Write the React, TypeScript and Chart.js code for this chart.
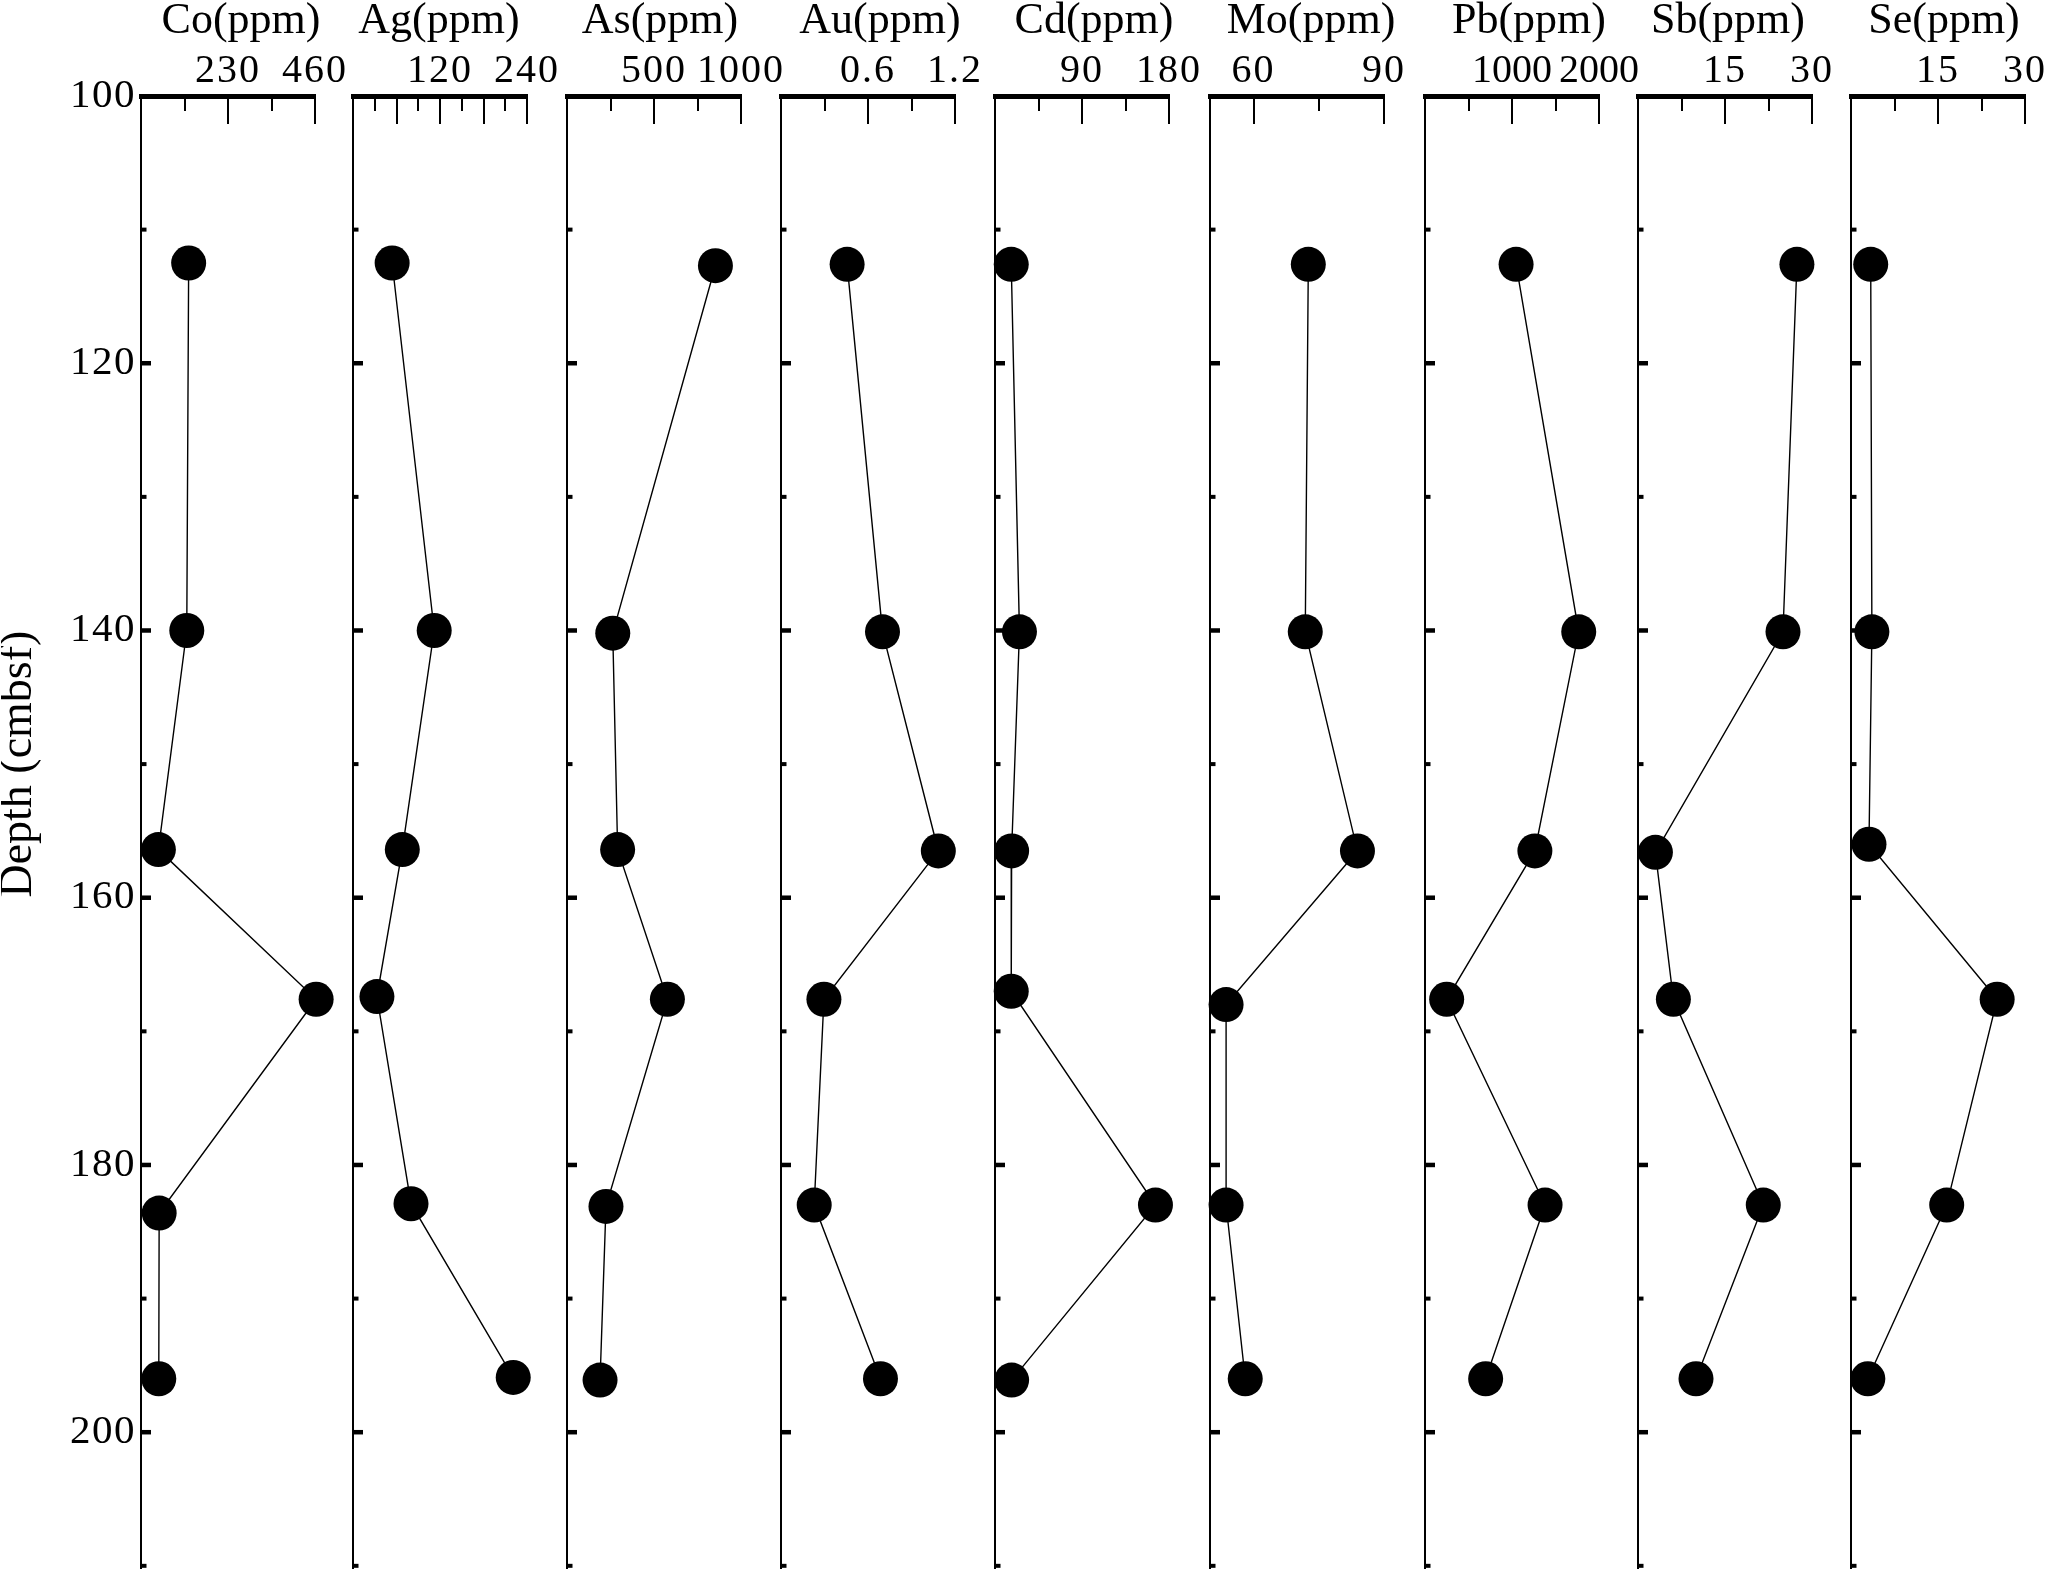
import React, { useEffect, useRef } from "react";
import { Chart, registerables } from "chart.js";

Chart.register(...registerables);

// ---------- data ----------
const TITLES = ["Co(ppm)", "Ag(ppm)", "As(ppm)", "Au(ppm)", "Cd(ppm)", "Mo(ppm)", "Pb(ppm)", "Sb(ppm)", "Se(ppm)"];
const Y_TITLE = "Depth (cmbsf)";

const DEPTH_TICKS = [100, 110, 120, 130, 140, 150, 160, 170, 180, 190, 200, 210];
const DEPTH_LABELS = [100, 120, 140, 160, 180, 200];

const CO_DEPTH = [112.5, 140.0, 156.4, 167.6, 183.6, 196.0];
const CO = [126, 121, 46, 463, 48, 47];
const AG_DEPTH = [112.5, 140.0, 156.4, 167.4, 182.9, 195.9];
const AG = [54, 112, 68, 33, 80, 221];
const AS_DEPTH = [112.7, 140.2, 156.4, 167.6, 183.1, 196.1];
const AS = [853, 263, 291, 577, 224, 190];
const AU_DEPTH = [112.6, 140.1, 156.5, 167.6, 183.0, 196.0];
const AU = [0.456, 0.7, 1.085, 0.296, 0.229, 0.686];
const CD_DEPTH = [112.6, 140.1, 156.5, 167.0, 183.0, 196.1];
const CD = [16.8, 25.3, 17.2, 16.8, 166, 17.2];
const MO_DEPTH = [112.6, 140.1, 156.5, 168.0, 183.0, 196.0];
const MO = [72.6, 71.9, 83.9, 53.7, 53.7, 58.1];
const PB_DEPTH = [112.6, 140.1, 156.5, 167.6, 183.0, 196.0];
const PB = [1047, 1767, 1263, 249, 1380, 697];
const SB_DEPTH = [112.6, 140.1, 156.6, 167.6, 183.0, 196.0];
const SB = [27.4, 25.0, 3.0, 6.1, 21.6, 10.0];
const SE_DEPTH = [112.6, 140.1, 156.0, 167.6, 183.0, 196.0];
const SE = [3.4, 3.6, 3.1, 25.2, 16.5, 2.9];

// axis ranges and ticks
const CO_RANGE = [0, 460]; const CO_TICKS = [0, 115, 230, 345, 460]; const CO_LABELS = [230, 460]; const CO_MAJOR = [230, 460];
const AG_RANGE = [0, 240]; const AG_TICKS = [0, 30, 60, 90, 120, 150, 180, 210, 240]; const AG_LABELS = [120, 240]; const AG_MAJOR = [60, 120, 180, 240];
const AS_RANGE = [0, 1000]; const AS_TICKS = [0, 250, 500, 750, 1000]; const AS_LABELS = [500, 1000]; const AS_MAJOR = [500, 1000];
const AU_RANGE = [0, 1.2]; const AU_TICKS = [0, 0.3, 0.6, 0.9, 1.2]; const AU_LABELS = [0.6, 1.2]; const AU_MAJOR = [0.6, 1.2];
const CD_RANGE = [0, 180]; const CD_TICKS = [0, 45, 90, 135, 180]; const CD_LABELS = [90, 180]; const CD_MAJOR = [90, 180];
const MO_RANGE = [50, 90]; const MO_TICKS = [60, 75, 90]; const MO_LABELS = [60, 90]; const MO_MAJOR = [60, 90];
const PB_RANGE = [0, 2000]; const PB_TICKS = [0, 500, 1000, 1500, 2000]; const PB_LABELS = [1000, 2000]; const PB_MAJOR = [1000, 2000];
const SB_RANGE = [0, 30]; const SB_TICKS = [0, 7.5, 15, 22.5, 30]; const SB_LABELS = [15, 30]; const SB_MAJOR = [15, 30];
const SE_RANGE = [0, 30]; const SE_TICKS = [0, 7.5, 15, 22.5, 30]; const SE_LABELS = [15, 30]; const SE_MAJOR = [15, 30];

const PANELS = [
  { depth: CO_DEPTH, values: CO, range: CO_RANGE, ticks: CO_TICKS, labels: CO_LABELS, major: CO_MAJOR },
  { depth: AG_DEPTH, values: AG, range: AG_RANGE, ticks: AG_TICKS, labels: AG_LABELS, major: AG_MAJOR },
  { depth: AS_DEPTH, values: AS, range: AS_RANGE, ticks: AS_TICKS, labels: AS_LABELS, major: AS_MAJOR },
  { depth: AU_DEPTH, values: AU, range: AU_RANGE, ticks: AU_TICKS, labels: AU_LABELS, major: AU_MAJOR },
  { depth: CD_DEPTH, values: CD, range: CD_RANGE, ticks: CD_TICKS, labels: CD_LABELS, major: CD_MAJOR },
  { depth: MO_DEPTH, values: MO, range: MO_RANGE, ticks: MO_TICKS, labels: MO_LABELS, major: MO_MAJOR },
  { depth: PB_DEPTH, values: PB, range: PB_RANGE, ticks: PB_TICKS, labels: PB_LABELS, major: PB_MAJOR },
  { depth: SB_DEPTH, values: SB, range: SB_RANGE, ticks: SB_TICKS, labels: SB_LABELS, major: SB_MAJOR },
  { depth: SE_DEPTH, values: SE, range: SE_RANGE, ticks: SE_TICKS, labels: SE_LABELS, major: SE_MAJOR },
];

// ---------- layout ----------
const FONT = '"Liberation Serif", "Times New Roman", serif';
const W = 2056;
const H = 1586;
const PANEL_LEFT = [141, 353, 567, 781, 995, 1210, 1425, 1638, 1851];
const PLOT_W = 174;
const PAD_L = 140;
const PAD_R = 50;
const TOP_H = 96;
const TITLE_SHIFT = [13, -1, 6, 12, 12, 14, 17, 3, 6];
const LABEL_SPACING = [2, 2, 2, 2, 2, 2, 0, 2, 2];

function Panel({ index }: { index: number }) {
  const ref = useRef<HTMLCanvasElement | null>(null);
  useEffect(() => {
    const canvas = ref.current;
    if (!canvas) return;
    const spec = PANELS[index];
    const first = index === 0;

    const decor = {
      id: "decor" + index,
      beforeDraw(chart: any) {
        (chart.ctx as any).letterSpacing = "1.5px";
      },
      afterDatasetsDraw(chart: any) {
        (chart.ctx as any).letterSpacing = LABEL_SPACING[index] + "px";
      },
      afterDraw(chart: any) {
        const ctx = chart.ctx as CanvasRenderingContext2D;
        (ctx as any).letterSpacing = "0px";
        const a = chart.chartArea;
        const xs = chart.scales.x;
        const ys = chart.scales.y;
        ctx.save();
        ctx.fillStyle = "#000";
        for (const v of spec.ticks) {
          if (v === spec.range[0]) continue;
          const px = Math.round(xs.getPixelForValue(v));
          const len = spec.major.includes(v) ? 28 : 15;
          ctx.fillRect(px - 1, a.top, 2, len);
        }
        for (const v of DEPTH_TICKS) {
          if (v === 100) continue;
          const py = ys.getPixelForValue(v);
          const major = DEPTH_LABELS.includes(v);
          const th = major ? 4.5 : 4;
          ctx.fillRect(a.left, py - th / 2, major ? 10 : 5.5, th);
        }
        ctx.font = `44px ${FONT}`;
        ctx.textAlign = "center";
        ctx.textBaseline = "alphabetic";
        ctx.fillText(TITLES[index], (a.left + a.right) / 2 + TITLE_SHIFT[index], 33);
        if (first) {
          ctx.font = `46px ${FONT}`;
          ctx.translate(30, ys.getPixelForValue(150));
          ctx.rotate(-Math.PI / 2);
          ctx.textAlign = "center";
          ctx.textBaseline = "alphabetic";
          ctx.fillText(Y_TITLE, 0, 0);
        }
        ctx.restore();
      },
    };

    const chart = new Chart(canvas, {
      type: "scatter",
      data: {
        datasets: [
          {
            data: spec.depth.map((d, i) => ({ x: spec.values[i], y: d })),
            showLine: true,
            borderColor: "#000",
            borderWidth: 1.4,
            backgroundColor: "#000",
            pointBackgroundColor: "#000",
            pointBorderWidth: 0,
            pointRadius: 17.5,
            pointHoverRadius: 17.5,
            tension: 0,
            clip: false as any,
          },
        ],
      },
      options: {
        animation: false,
        responsive: false,
        devicePixelRatio: 1,
        events: [],
        layout: { padding: { left: 0, right: PAD_R, top: 0, bottom: 0 } },
        plugins: {
          legend: { display: false },
          tooltip: { enabled: false },
          title: { display: false },
        },
        scales: {
          x: {
            type: "linear",
            position: "top",
            min: spec.range[0],
            max: spec.range[1],
            afterBuildTicks: (s: any) => {
              s.ticks = spec.ticks.map((v) => ({ value: v }));
            },
            afterFit: (s: any) => {
              s.height = TOP_H;
              s.paddingLeft = 0;
              s.paddingRight = 0;
            },
            grid: { display: false, drawTicks: false, tickLength: 0 },
            border: { display: true, width: 5, color: "#000" },
            ticks: {
              z: 1,
              autoSkip: false,
              maxRotation: 0,
              minRotation: 0,
              padding: 1,
              color: "#000",
              font: { family: FONT, size: 40 },
              callback: (v: any) => (spec.labels.includes(v) ? String(v) : ""),
            },
          },
          y: {
            type: "linear",
            position: "left",
            reverse: true,
            min: 100,
            max: 210.2,
            afterBuildTicks: (s: any) => {
              s.ticks = DEPTH_TICKS.map((v) => ({ value: v }));
            },
            afterFit: (s: any) => {
              s.width = PAD_L;
              s.paddingTop = 0;
              s.paddingBottom = 0;
            },
            grid: { display: false, drawTicks: false, tickLength: 0 },
            border: { display: true, width: 2, color: "#000" },
            ticks: {
              display: first,
              autoSkip: false,
              padding: 5,
              color: "#000",
              font: { family: FONT, size: 41 },
              callback: (v: any) => (DEPTH_LABELS.includes(v) ? String(v) : ""),
            },
          },
        },
      } as any,
      plugins: [decor],
    });
    return () => chart.destroy();
  }, [index]);

  const cw = PAD_L + PLOT_W + PAD_R;
  return (
    <canvas
      ref={ref}
      width={cw}
      height={H}
      style={{ position: "absolute", left: PANEL_LEFT[index] - PAD_L, top: 0, width: cw, height: H }}
    />
  );
}

export default function App() {
  return (
    <div style={{ position: "absolute", left: 0, top: 0, width: W, height: H, background: "#fff", overflow: "hidden" }}>
      {PANELS.map((_, i) => (
        <Panel key={i} index={i} />
      ))}
    </div>
  );
}
